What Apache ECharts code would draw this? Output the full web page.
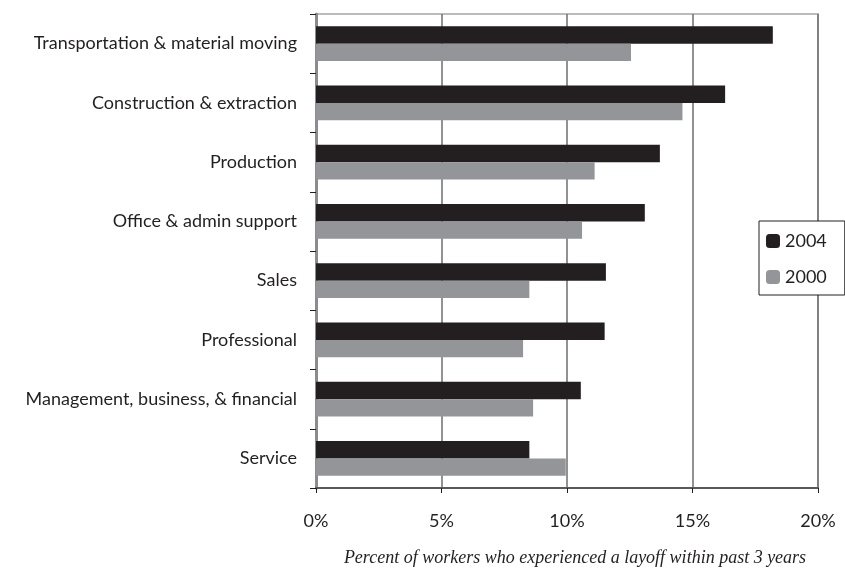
<!DOCTYPE html>
<html>
<head>
<meta charset="utf-8">
<script src="https://cdn.jsdelivr.net/npm/echarts@6/dist/echarts.min.js"></script>
<style>
html,body{margin:0;padding:0;background:#fff;}
#chart{width:845px;height:570px;}
</style>
</head>
<body>
<div id="chart"></div>
<script>
const categories = [
  "Transportation & material moving",
  "Construction & extraction",
  "Production",
  "Office & admin support",
  "Sales",
  "Professional",
  "Management, business, & financial",
  "Service"
];
const values2004 = [18.2, 16.3, 13.7, 13.1, 11.55, 11.5, 10.55, 8.5];
const values2000 = [12.55, 14.6, 11.1, 10.6, 8.5, 8.25, 8.65, 9.95];
const xTicks = [0, 5, 10, 15, 20];
const axisTitle = "Percent of workers who experienced a layoff within past 3 years";

const chart = echarts.init(document.getElementById('chart'), null, {renderer: 'canvas'});
const labelFont = 'Lato, "Open Sans", sans-serif';
chart.setOption({
  animation: false,
  backgroundColor: '#ffffff',
  grid: {
    left: 316, top: 14, right: 27, bottom: 82,
    outerBoundsMode: 'none',
    containLabel: false,
    show: true, borderColor: '#b9bbbd', borderWidth: 2, backgroundColor: 'transparent'
  },
  legend: {
    orient: 'vertical',
    left: 759, top: 221,
    padding: [11, 18, 9, 7],
    itemWidth: 14, itemHeight: 14, itemGap: 18,
    borderColor: '#231f20', borderWidth: 1,
    backgroundColor: '#ffffff',
    textStyle: {fontFamily: labelFont, fontSize: 18, color: '#231f20'},
    data: ['2004', '2000']
  },
  xAxis: {
    type: 'value',
    min: xTicks[0], max: xTicks[xTicks.length - 1], interval: 5,
    axisLine: {show: true, lineStyle: {color: '#58595b', width: 2}},
    axisTick: {show: true, length: 5, lineStyle: {color: '#231f20', width: 1}},
    axisLabel: {formatter: '{value}%', fontFamily: labelFont, fontSize: 18, color: '#231f20', margin: 24},
    splitLine: {show: true, lineStyle: {color: '#6d6e70', width: 1.5}},
    name: axisTitle,
    nameLocation: 'middle',
    nameGap: 61,
    nameTextStyle: {fontFamily: '"Liberation Serif", "DejaVu Serif", serif', fontStyle: 'italic', fontSize: 18, color: '#231f20', padding: [0, 0, 0, 16]}
  },
  yAxis: {
    type: 'category',
    inverse: true,
    data: categories,
    axisLine: {show: true, lineStyle: {color: '#8a8c8e', width: 3}},
    axisTick: {show: true, length: 6, lineStyle: {color: '#231f20', width: 1}},
    axisLabel: {fontFamily: labelFont, fontSize: 18, color: '#231f20', margin: 19},
    splitLine: {show: false}
  },
  series: [
    {
      name: '2004', type: 'bar', data: values2004,
      barGap: '0%', barCategoryGap: '41%',
      itemStyle: {color: '#231f20'}
    },
    {
      name: '2000', type: 'bar', data: values2000,
      barGap: '0%', barCategoryGap: '41%',
      itemStyle: {color: '#939598'}
    }
  ]
});
</script>
</body>
</html>
